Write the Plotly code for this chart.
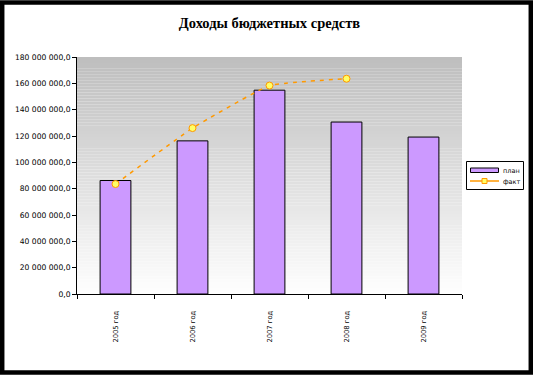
import plotly.graph_objects as go

categories = ["2005 год", "2006 год", "2007 год", "2008 год", "2009 год"]
plan = [86200000, 116300000, 154800000, 130600000, 119200000]
fact_categories = ["2005 год", "2006 год", "2007 год", "2008 год"]
fact = [83500000, 126000000, 158300000, 163500000]
y_ticks = list(range(0, 180000001, 20000000))

W, H = 533, 375
ml, mr, mt, mb = 77, 71, 57, 81
pw, ph = W - ml - mr, H - mt - mb

def px(x):
    return (x - ml) / pw

def py(y):
    return (H - mb - y) / ph

fig = go.Figure()
fig.add_trace(go.Bar(
    x=categories, y=plan, name="план",
    marker=dict(color="#CC99FF", line=dict(color="black", width=1)),
    width=0.4, showlegend=False,
))
fig.add_trace(go.Scatter(
    x=fact_categories, y=fact, name="факт", mode="lines+markers",
    line=dict(color="#FF9900", width=1.5, dash="4px,5px", shape="spline", smoothing=0.35),
    marker=dict(symbol="circle", size=7, color="#FFFF66", line=dict(color="#FF9900", width=1)),
    showlegend=False,
))

shapes = []
# gradient background bands
n = 80
for i in range(n):
    t = i / n
    g = int(255 - (255 - 190) * (t + 0.5 / n))
    shapes.append(dict(type="rect", xref="x domain", yref="y domain",
                       x0=0, x1=1, y0=t, y1=t + 1.0 / n,
                       fillcolor=f"rgb({g},{g},{g})", line=dict(width=0), layer="below"))
# outer black frame
shapes.append(dict(type="rect", xref="paper", yref="paper",
                   x0=px(2.2), x1=px(530.8), y0=py(372.5), y1=py(2.5),
                   line=dict(color="black", width=4.5), fillcolor="rgba(0,0,0,0)"))
# legend box
shapes.append(dict(type="rect", xref="paper", yref="paper",
                   x0=px(466.5), x1=px(523.5), y0=py(189.5), y1=py(161.5),
                   line=dict(color="black", width=1), fillcolor="white"))
# legend: план swatch
shapes.append(dict(type="rect", xref="paper", yref="paper",
                   x0=px(470.5), x1=px(498.5), y0=py(172.5), y1=py(168),
                   line=dict(color="black", width=1), fillcolor="#CC99FF"))
# legend: факт line + marker
shapes.append(dict(type="line", xref="paper", yref="paper",
                   x0=px(470), x1=px(499), y0=py(181), y1=py(181),
                   line=dict(color="#FF9900", width=1.5)))
shapes.append(dict(type="rect", xref="paper", yref="paper",
                   x0=px(482), x1=px(487), y0=py(183.5), y1=py(178.5),
                   line=dict(color="#FF9900", width=1), fillcolor="#FFFF66"))

legend_font = dict(family="DejaVu Sans, Verdana, sans-serif", size=6.5, color="black")
annotations = [
    dict(text="план", xref="paper", yref="paper", x=px(501), y=py(170.5),
         xanchor="left", yanchor="middle", showarrow=False, font=legend_font),
    dict(text="факт", xref="paper", yref="paper", x=px(501), y=py(181.5),
         xanchor="left", yanchor="middle", showarrow=False, font=legend_font),
]

fig.update_layout(
    width=W, height=H,
    margin=dict(l=ml, r=mr, t=mt, b=mb, pad=0),
    paper_bgcolor="white", plot_bgcolor="white",
    separators=", ",
    title=dict(text="<b>Доходы бюджетных средств</b>", x=0.5, xref="paper",
               xanchor="center", y=1 - 23 / H, yanchor="middle",
               font=dict(family="Liberation Serif, Times New Roman, serif", size=14.5, color="black")),
    showlegend=False,
    shapes=shapes,
    annotations=annotations,
)
fig.update_xaxes(
    type="category", showgrid=False, showline=True, linecolor="black", linewidth=1,
    ticks="outside", tickson="boundaries", ticklen=4, tickcolor="black",
    tickangle=-90, ticklabelstandoff=13,
    tickfont=dict(family="DejaVu Sans, Verdana, sans-serif", size=6.8, color="black"),
)
fig.update_yaxes(
    range=[0, 180000000], tickvals=y_ticks, tickformat=",.1f",
    showgrid=False, showline=True, linecolor="black", linewidth=1,
    ticks="outside", ticklen=4, tickcolor="black", zeroline=False,
    tickfont=dict(family="DejaVu Sans, Verdana, sans-serif", size=7.6, color="black"),
)
fig.write_html("out.html", config={"displayModeBar": False},
               post_script="document.body.style.margin='0';document.body.style.overflow='hidden';")
